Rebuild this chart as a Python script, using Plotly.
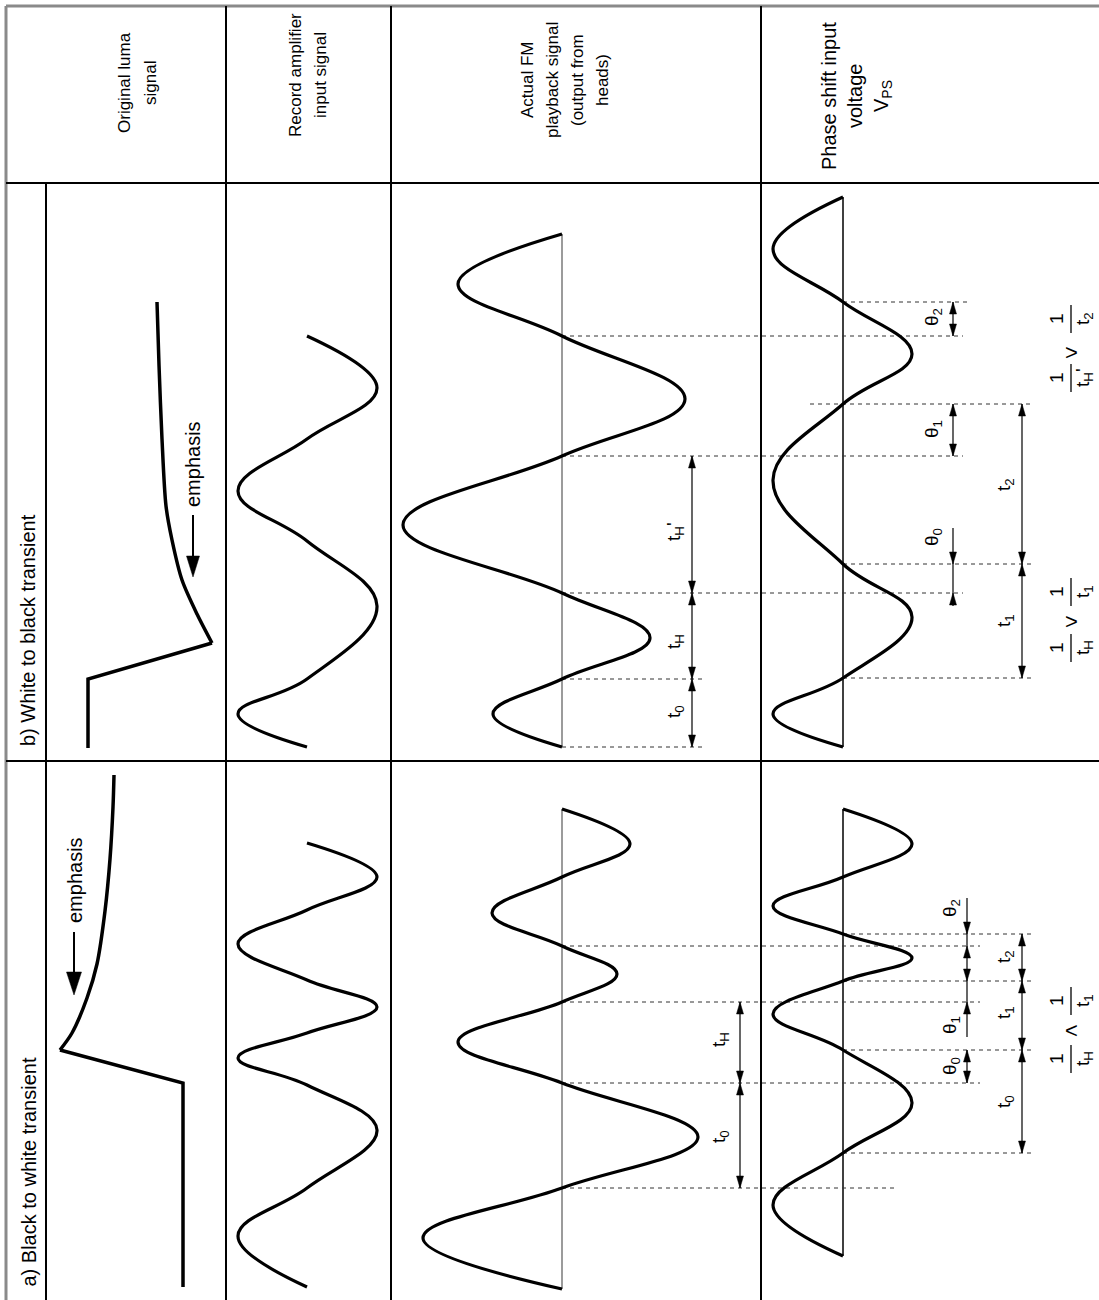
import plotly.graph_objects as go

W, H = 1099, 1300
FONT = "Liberation Sans, Arial, Helvetica, sans-serif"

# ---------------- data (y = time, runs upward) ----------------
header_lines = [
    ["Original luma", "signal"],
    ["Record amplifier", "input signal"],
    ["Actual FM", "playback signal", "(output from", "heads)"],
    ["Phase shift input", "voltage", "V<sub>PS</sub>"],
]
row_labels = ["b) White to black transient", "a) Black to white transient"]
emphasis_text = "emphasis"

# original luma signal: step part and emphasis decay part
luma_b_step_x = [88, 88, 212]
luma_b_step_y = [748, 679, 643]
luma_b_decay_x = [212, 197, 182, 172, 166, 162, 159, 157]
luma_b_decay_y = [643, 614, 580, 540, 506, 439, 365, 302]
luma_a_step_x = [183, 183, 60]
luma_a_step_y = [1287, 1083, 1050]
luma_a_decay_x = [60, 72, 87, 97, 105, 110, 113, 114]
luma_a_decay_y = [1050, 1033, 998, 964, 911, 859, 807, 775]

# record amplifier input signal (crossings / peaks, offset from midline)
rec_b_y = [747, 714, 679, 606, 541, 491, 439, 388, 336]
rec_b_amp = [0, -69, 0, 70, 0, -69, 0, 70, 0]
rec_a_y = [1287, 1236, 1188, 1130, 1085, 1058, 1033, 1007, 980, 944, 910, 877, 843]
rec_a_amp = [0, -69, 0, 70, 0, -69, 0, 70, 0, -69, 0, 70, 0]

# actual FM playback signal
fm_b_y = [747, 714, 679, 638, 593, 525, 456, 399, 336, 284, 234]
fm_b_amp = [0, -69, 0, 88, 0, -159, 0, 123, 0, -104, 0]
fm_a_y = [809, 844, 877, 913, 946, 974, 1002, 1042, 1083, 1137, 1188, 1238, 1289]
fm_a_amp = [0, 68, 0, -70, 0, 55, 0, -104, 0, 136, 0, -139, 0]

# phase shift input voltage
ps_b_y = [747, 714, 678, 617, 564, 480, 404, 354, 302, 249, 197]
ps_b_amp = [0, -70, 0, 69, 0, -70, 0, 69, 0, -70, 0]
ps_a_y = [809, 844, 877, 906, 934, 958, 981, 1014, 1050, 1103, 1153, 1205, 1256]
ps_a_amp = [0, 69, 0, -70, 0, 69, 0, -70, 0, 69, 0, -70, 0]

# interval labels
t_labels_fm_b = ["t<sub>0</sub>", "t<sub>H</sub>", "t<sub>H</sub>'"]
t_labels_ps_b = ["t<sub>1</sub>", "t<sub>2</sub>"]
th_labels = ["θ<sub>0</sub>", "θ<sub>1</sub>", "θ<sub>2</sub>"]
t_labels_fm_a = ["t<sub>H</sub>", "t<sub>0</sub>"]
t_labels_ps_a = ["t<sub>2</sub>", "t<sub>1</sub>", "t<sub>0</sub>"]

# ---------------- layout constants ----------------
MID_REC, MID_FM, MID_PS = 307, 562, 843
COL_X = [226, 391, 761]
X_LEFT_INNER = 46
Y_HEAD, Y_ROW = 183, 761
LBL = 19  # size of interval labels

fig = go.Figure()


def line(xs, ys, width=1.2, color="black", dash=None, shape="linear", smoothing=1.0):
    ln = dict(color=color, width=width, shape=shape)
    if dash:
        ln["dash"] = dash
    if shape == "spline":
        ln["smoothing"] = smoothing
    fig.add_trace(go.Scatter(x=xs, y=ys, mode="lines", line=ln,
                             hoverinfo="skip", showlegend=False))


def text(x, y, s, size=15, angle=-90, xanchor="center", yanchor="middle"):
    fig.add_annotation(x=x, y=y, xref="x", yref="y", text=s, showarrow=False,
                       textangle=angle, xanchor=xanchor, yanchor=yanchor,
                       font=dict(family=FONT, size=size, color="black"))


heads_x, heads_y = [], []


def head(x, tip, direction, L=12, hw=3.5):
    # direction +1 -> points down (increasing y), -1 -> points up
    base = tip - direction * L
    heads_x.extend([x - hw, x, x + hw, x - hw, None])
    heads_y.extend([base, tip, base, base, None])


def dim_out(x, y1, y2):
    top, bot = min(y1, y2), max(y1, y2)
    line([x, x], [top, bot])
    head(x, top, -1)
    head(x, bot, +1)


def dim_in(x, y1, y2, ext_top=35, ext_bot=13):
    top, bot = min(y1, y2), max(y1, y2)
    line([x, x], [top - ext_top, bot + ext_bot])
    head(x, top, +1)
    head(x, bot, -1)


def wave(mid, ys, amps, width=3.2):
    line([mid + a for a in amps], ys, width=width, shape="spline", smoothing=1.15)


# ---------------- table grid ----------------
GRAY = "#8a8a8a"
shapes = [
    dict(x0=6, x1=W, y0=6, y1=6, color=GRAY, w=3),
    dict(x0=6, x1=6, y0=6, y1=H, color=GRAY, w=3),
    dict(x0=6, x1=W, y0=Y_HEAD, y1=Y_HEAD, color="black", w=2),
    dict(x0=6, x1=W, y0=Y_ROW, y1=Y_ROW, color="black", w=2),
    dict(x0=X_LEFT_INNER, x1=X_LEFT_INNER, y0=Y_HEAD, y1=H, color="black", w=2),
] + [dict(x0=cx, x1=cx, y0=6, y1=H, color="black", w=2) for cx in COL_X]
for s in shapes:
    fig.add_shape(type="line", xref="x", yref="y", x0=s["x0"], x1=s["x1"],
                  y0=s["y0"], y1=s["y1"], line=dict(color=s["color"], width=s["w"]))

# ---------------- headers ----------------
header_pos = [([124, 150], 83, 17), ([295, 320], 75, 17),
              ([527, 552, 577, 602], 80, 17), ([829, 855, 882], 96, 20)]
for lines_, (xs, yc, fs) in zip(header_lines, header_pos):
    for s, x in zip(lines_, xs):
        text(x, yc, s, size=fs)

# row labels (start at bottom of each row)
text(28, 748, row_labels[0], size=20, yanchor="bottom")
text(28, 1289, row_labels[1], size=20, yanchor="bottom")

# ---------------- midlines ----------------
line([MID_FM, MID_FM], [fm_b_y[-1], fm_b_y[0]], width=1.5, color="#7a7a7a")
line([MID_FM, MID_FM], [fm_a_y[0], fm_a_y[-1]], width=1.5, color="#7a7a7a")
line([MID_PS, MID_PS], [ps_b_y[-1], ps_b_y[0]], width=1.5)
line([MID_PS, MID_PS], [ps_a_y[0], ps_a_y[-1]], width=1.5)

# ---------------- dashed extension lines ----------------
DASH = "4px,4px"
DC = "#333333"
ext = [
    (fm_b_y[0], MID_FM, 703), (fm_b_y[2], MID_FM, 703),
    (fm_b_y[4], MID_FM, 963), (fm_b_y[6], MID_FM, 963), (fm_b_y[8], MID_FM, 963),
    (ps_b_y[2], MID_PS, 1033), (ps_b_y[4], MID_PS, 1033),
    (ps_b_y[6], 810, 1033), (ps_b_y[8], MID_PS, 967),
    (fm_a_y[4], MID_FM, 980), (fm_a_y[6], MID_FM, 980), (fm_a_y[8], MID_FM, 980),
    (fm_a_y[10], MID_FM, 898),
    (ps_a_y[4], MID_PS, 1033), (ps_a_y[6], MID_PS, 1033),
    (ps_a_y[8], MID_PS, 1033), (ps_a_y[10], MID_PS, 1033),
]
ex, ey = [], []
for yv, x0, x1 in ext:
    ex += [x0, x1, None]
    ey += [yv, yv, None]
line(ex, ey, width=1, color=DC, dash=DASH)

# ---------------- waveforms ----------------
line(luma_b_step_x, luma_b_step_y, width=3.5)
line(luma_b_decay_x, luma_b_decay_y, width=3.5, shape="spline", smoothing=0.8)
line(luma_a_step_x, luma_a_step_y, width=3.5)
line(luma_a_decay_x, luma_a_decay_y, width=3.5, shape="spline", smoothing=0.8)
wave(MID_REC, rec_b_y, rec_b_amp)
wave(MID_REC, rec_a_y, rec_a_amp)
wave(MID_FM, fm_b_y, fm_b_amp)
wave(MID_FM, fm_a_y, fm_a_amp)
wave(MID_PS, ps_b_y, ps_b_amp)
wave(MID_PS, ps_a_y, ps_a_amp)

# ---------------- emphasis arrows ----------------
line([193, 193], [515, 556], width=2)
head(193, 577, +1, L=21, hw=6.5)
text(193, 464, emphasis_text, size=20)
line([74, 74], [932, 972], width=2)
head(74, 995, +1, L=23, hw=7.5)
text(75, 880, emphasis_text, size=20)

# ---------------- dimensions: row b ----------------
XT_FM_B, XT_PS_B, XTH_B = 692, 1022, 953
dim_out(XT_FM_B, fm_b_y[2], fm_b_y[0])
dim_out(XT_FM_B, fm_b_y[4], fm_b_y[2])
dim_out(XT_FM_B, fm_b_y[6], fm_b_y[4])
for s, yc in zip(t_labels_fm_b, [712, 642, 532]):
    text(675, yc, s, size=LBL)

dim_out(XT_PS_B, ps_b_y[4], ps_b_y[2])
dim_out(XT_PS_B, ps_b_y[6], ps_b_y[4])
for s, yc in zip(t_labels_ps_b, [621, 485]):
    text(1005, yc, s, size=LBL)

dim_in(XTH_B, ps_b_y[4], fm_b_y[4], ext_top=36, ext_bot=13)
dim_out(XTH_B, ps_b_y[6], fm_b_y[6])
dim_out(XTH_B, ps_b_y[8], fm_b_y[8])
for s, yc in zip(th_labels, [537, 429, 317]):
    text(933, yc, s, size=LBL)

# ---------------- dimensions: row a ----------------
XT_FM_A, XT_PS_A, XTH_A = 740, 1022, 967
dim_out(XT_FM_A, fm_a_y[6], fm_a_y[8])
dim_out(XT_FM_A, fm_a_y[8], fm_a_y[10])
for s, yc in zip(t_labels_fm_a, [1040, 1137]):
    text(720, yc, s, size=LBL)

dim_out(XT_PS_A, ps_a_y[4], ps_a_y[6])
dim_out(XT_PS_A, ps_a_y[6], ps_a_y[8])
dim_out(XT_PS_A, ps_a_y[8], ps_a_y[10])
for s, yc in zip(t_labels_ps_a, [957, 1013, 1102]):
    text(1005, yc, s, size=LBL)

# theta2 / theta1 (narrow, arrows from outside), theta0 (outward)
line([XTH_A, XTH_A], [ps_a_y[4] - 36, fm_a_y[6] + 35])
head(XTH_A, ps_a_y[4], +1)
head(XTH_A, fm_a_y[4], -1)
head(XTH_A, ps_a_y[6], +1)
head(XTH_A, fm_a_y[6], -1)
dim_out(XTH_A, ps_a_y[8], fm_a_y[8])
for s, yc in zip(th_labels, [1066, 1025, 908]):
    text(951, yc, s, size=LBL)

# ---------------- formulas ----------------
formulas = [
    (648, 592, 621, "t<sub>H</sub>", "t<sub>1</sub>", ">"),
    (378, 319, 352, "t<sub>H</sub>'", "t<sub>2</sub>", ">"),
    (1059, 1001, 1030, "t<sub>H</sub>", "t<sub>1</sub>", "<"),
]
X_NUM, X_BAR, X_DEN = 1056, 1071, 1084
for f1, f2, rel_y, d1, d2, rel in formulas:
    for yc, den in ((f1, d1), (f2, d2)):
        text(X_NUM, yc, "1", size=19)
        line([X_BAR, X_BAR], [yc - 14, yc + 14], width=1.3)
        text(X_DEN, yc, den, size=19)
    text(X_BAR, rel_y, rel, size=22, angle=0)

# all arrowheads as filled triangles
fig.add_trace(go.Scatter(x=heads_x, y=heads_y, mode="lines", fill="toself",
                         fillcolor="black", line=dict(color="black", width=0.5),
                         hoverinfo="skip", showlegend=False))

fig.update_layout(
    width=W, height=H, margin=dict(l=0, r=0, t=0, b=0),
    paper_bgcolor="white", plot_bgcolor="white",
    font=dict(family=FONT, size=16, color="black"),
    xaxis=dict(range=[0, W], visible=False, fixedrange=True),
    yaxis=dict(range=[H, 0], visible=False, fixedrange=True),
    showlegend=False,
)

fig.write_html("out.html", config={"displayModeBar": False},
               post_script="document.body.style.margin='0';")
